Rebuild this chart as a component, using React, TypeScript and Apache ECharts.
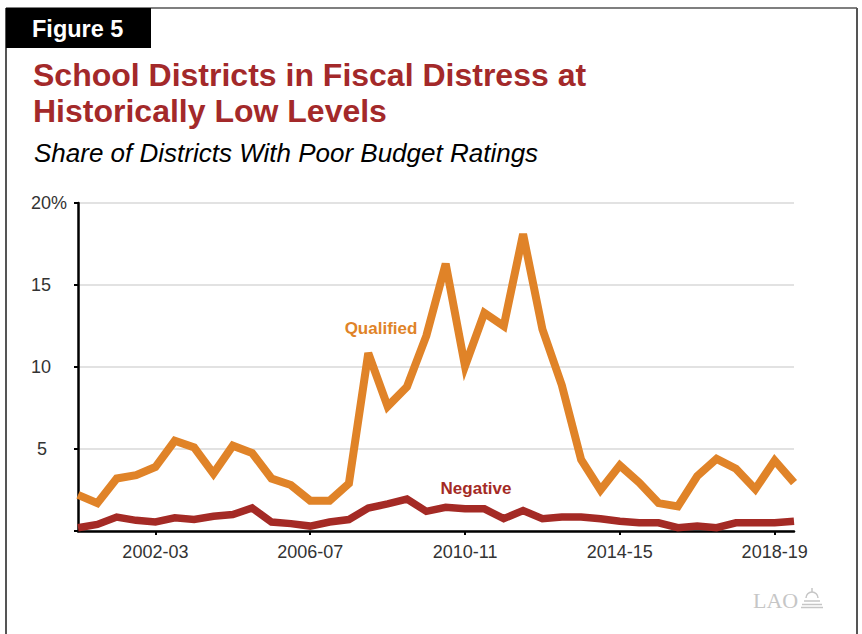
import React, { useEffect, useRef } from "react";
import * as echarts from "echarts";

const years = [
  "2000-01", "2001-02", "2002-03", "2003-04", "2004-05", "2005-06", "2006-07",
  "2007-08", "2008-09", "2009-10", "2010-11", "2011-12", "2012-13", "2013-14",
  "2014-15", "2015-16", "2016-17", "2017-18", "2018-19",
];
const reports = ["First Interim", "Second Interim"];
const categories = years.flatMap((y) => reports.map((r) => `${y} ${r}`));

const qualified = [
  2.2, 1.7, 3.2, 3.4, 3.9, 5.5, 5.1, 3.5, 5.2, 4.75,
  3.2, 2.8, 1.85, 1.85, 2.9, 10.85, 7.6, 8.8, 11.9, 16.3,
  10.05, 13.3, 12.5, 18.1, 12.3, 8.9, 4.35, 2.5, 4.0, 2.95,
  1.7, 1.5, 3.35, 4.4, 3.8, 2.55, 4.3, 2.95,
];
const negative = [
  0.2, 0.4, 0.85, 0.65, 0.55, 0.8, 0.7, 0.9, 1.0, 1.4,
  0.55, 0.45, 0.3, 0.55, 0.7, 1.4, 1.65, 1.95, 1.2, 1.45,
  1.35, 1.35, 0.75, 1.25, 0.75, 0.85, 0.85, 0.75, 0.6, 0.5,
  0.5, 0.2, 0.3, 0.2, 0.5, 0.5, 0.5, 0.6,
];
const yTicks = [0, 5, 10, 15, 20];

const ORANGE = "#E08328";
const RED = "#A42A25";
const TITLE_RED = "#A3292A";
const FONT = '"Liberation Sans", Arial, Helvetica, sans-serif';

export default function App() {
  const ref = useRef<HTMLDivElement>(null);
  useEffect(() => {
    if (!ref.current) return;
    const chart = echarts.init(ref.current, undefined, { renderer: "svg" });
    chart.setOption({
      animation: false,
      backgroundColor: "#ffffff",
      textStyle: { fontFamily: FONT },
      grid: { left: 78, right: 68, top: 203, bottom: 103, containLabel: false },
      xAxis: {
        type: "category",
        data: categories,
        boundaryGap: false,
        axisLine: { show: true, lineStyle: { color: "#000", width: 2.5 } },
        axisTick: {
          show: true,
          length: 4,
          interval: (i: number) => i % 8 === 4,
          lineStyle: { color: "#000", width: 2 },
        },
        axisLabel: {
          interval: (i: number) => i % 8 === 4,
          formatter: (v: string) => v.split(" ")[0],
          fontSize: 18,
          color: "#333",
          margin: 12,
          fontFamily: FONT,
        },
        splitLine: { show: false },
      },
      yAxis: {
        type: "value",
        min: yTicks[0],
        max: yTicks[yTicks.length - 1],
        interval: 5,
        axisLine: { show: true, lineStyle: { color: "#000", width: 2.5 } },
        axisTick: { show: true, length: 4, lineStyle: { color: "#000", width: 2 } },
        axisLabel: {
          align: "left",
          margin: 47,
          fontSize: 18,
          color: "#333",
          fontFamily: FONT,
          formatter: (v: number) =>
            v === 0 ? "" : v === 20 ? "20%" : v === 5 ? "{p|5}" : String(v),
          rich: { p: { padding: [0, 0, 0, 6], fontSize: 18, color: "#333", fontFamily: FONT } },
        },
        splitLine: { show: true, lineStyle: { color: "#d9d9d9", width: 1.5 } },
      },
      series: [
        {
          name: "Qualified",
          type: "line",
          data: qualified,
          symbol: "none",
          lineStyle: { color: ORANGE, width: 8, join: "miter" },
          z: 3,
        },
        {
          name: "Negative",
          type: "line",
          data: negative,
          symbol: "none",
          lineStyle: { color: RED, width: 7.5, join: "miter" },
          z: 4,
        },
      ],
      graphic: [
        { type: "line", shape: { x1: 6, y1: 8, x2: 857, y2: 8 }, style: { stroke: "#555", lineWidth: 1.5 } },
        { type: "line", shape: { x1: 6, y1: 8, x2: 6, y2: 634 }, style: { stroke: "#555", lineWidth: 2 } },
        { type: "line", shape: { x1: 857, y1: 8, x2: 857, y2: 634 }, style: { stroke: "#555", lineWidth: 2 } },
        { type: "rect", shape: { x: 6, y: 8, width: 145, height: 40 }, style: { fill: "#000" } },
        {
          type: "text",
          x: 32,
          y: 29,
          style: {
            text: "Figure 5",
            font: `bold 23.5px ${FONT}`,
            fill: "#fff",
            verticalAlign: "middle",
          },
        },
        {
          type: "text",
          x: 33,
          y: 75,
          style: {
            text: "School Districts in Fiscal Distress at",
            font: `bold 32px ${FONT}`,
            fill: TITLE_RED,
            verticalAlign: "middle",
          },
        },
        {
          type: "text",
          x: 33,
          y: 111,
          style: {
            text: "Historically Low Levels",
            font: `bold 32px ${FONT}`,
            fill: TITLE_RED,
            verticalAlign: "middle",
          },
        },
        {
          type: "text",
          x: 34,
          y: 153,
          style: {
            text: "Share of Districts With Poor Budget Ratings",
            font: `italic 26px ${FONT}`,
            fill: "#000",
            verticalAlign: "middle",
          },
        },
        {
          type: "text",
          x: 381,
          y: 328,
          style: {
            text: "Qualified",
            font: `bold 17px ${FONT}`,
            fill: ORANGE,
            align: "center",
            verticalAlign: "middle",
          },
        },
        {
          type: "text",
          x: 476,
          y: 488,
          style: {
            text: "Negative",
            font: `bold 17px ${FONT}`,
            fill: RED,
            align: "center",
            verticalAlign: "middle",
          },
        },
        {
          type: "text",
          x: 753,
          y: 600,
          style: {
            text: "LAO",
            font: `22px "Liberation Serif", "DejaVu Serif", serif`,
            fill: "#c6c6c6",
            verticalAlign: "middle",
          },
        },
        {
          type: "group",
          children: [
            { type: "arc", shape: { cx: 812, cy: 598, r: 6, startAngle: Math.PI, endAngle: 2 * Math.PI }, style: { stroke: "#c6c6c6", lineWidth: 1.5, fill: "none" } },
            { type: "line", shape: { x1: 812, y1: 588, x2: 812, y2: 592 }, style: { stroke: "#c6c6c6", lineWidth: 1.5 } },
            { type: "line", shape: { x1: 804, y1: 601, x2: 820, y2: 601 }, style: { stroke: "#c6c6c6", lineWidth: 1.5 } },
            { type: "line", shape: { x1: 802, y1: 604.5, x2: 822, y2: 604.5 }, style: { stroke: "#c6c6c6", lineWidth: 1.5 } },
            { type: "line", shape: { x1: 801, y1: 607.5, x2: 823, y2: 607.5 }, style: { stroke: "#c6c6c6", lineWidth: 1.5 } },
          ],
        },
      ],
    });
    return () => chart.dispose();
  }, []);
  return (
    <div
      ref={ref}
      style={{ position: "absolute", left: 0, top: 0, width: 862, height: 634, background: "#fff" }}
    />
  );
}
